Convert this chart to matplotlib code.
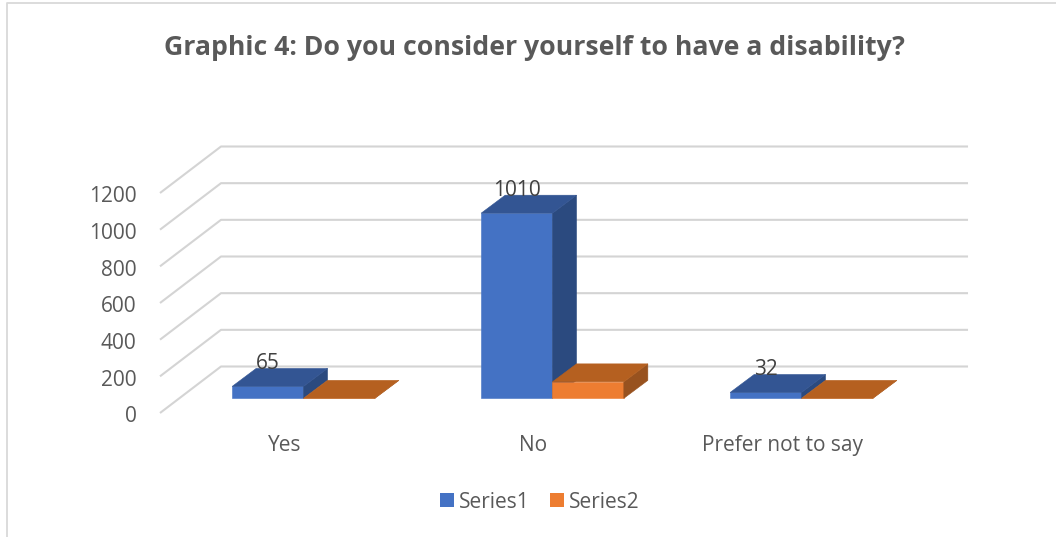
import matplotlib
matplotlib.use("Agg")
import matplotlib.pyplot as plt
from matplotlib.patches import Patch, Polygon
from matplotlib.lines import Line2D
from matplotlib.transforms import ScaledTranslation

categories = ["Yes", "No", "Prefer not to say"]
series1 = [65, 1010, 32]
series2 = [0, 90, 0]
y_ticks = [0, 200, 400, 600, 800, 1000, 1200]

plt.rcParams["font.family"] = "Open Sans"

W, H = 1056, 537
fig = plt.figure(figsize=(W / 100, H / 100), dpi=100)
ax = fig.add_axes([160 / W, 1 - 413 / H, 747 / W, 220 / H])
ax.set_xlim(-0.5, 2.5)
ax.set_ylim(0, 1200)
for s in ax.spines.values():
    s.set_visible(False)

# fake 3d: depth of the floor and of the bars, in data units
depth_x = 0.245
depth_y = 253.6
bar_w = 0.2865
bar_dx = 0.0964
bar_dy = 98
start_x = 0.0763
start_y = 80


def draw_bar(x, v, front, top, side):
    x0 = x + start_x
    x1 = x0 + bar_w
    ax.add_patch(Polygon([(x0, start_y), (x1, start_y), (x1, start_y + v), (x0, start_y + v)],
                         fc=front, ec=front, lw=0.4, clip_on=False, zorder=3))
    ax.add_patch(Polygon([(x1, start_y), (x1 + bar_dx, start_y + bar_dy),
                          (x1 + bar_dx, start_y + bar_dy + v), (x1, start_y + v)],
                         fc=side, ec=side, lw=0.4, clip_on=False, zorder=3))
    ax.add_patch(Polygon([(x0, start_y + v), (x1, start_y + v),
                          (x1 + bar_dx, start_y + bar_dy + v), (x0 + bar_dx, start_y + bar_dy + v)],
                         fc=top, ec=top, lw=0.4, clip_on=False, zorder=3))


for v in y_ticks:
    ax.plot([-0.5, -0.5 + depth_x, 2.5 + depth_x], [v, v + depth_y, v + depth_y],
            color="#d4d4d4", lw=1.5, clip_on=False, zorder=1, solid_capstyle="butt")

for i in range(len(categories)):
    draw_bar(i - bar_w, series1[i], "#4472c4", "#335593", "#2b4a7f")
    draw_bar(i, series2[i], "#ed7d31", "#b56020", "#98521f")
    ax.annotate(str(series1[i]), (i - bar_w / 2 + start_x, start_y + series1[i]), xytext=(0, 16.2),
                textcoords="offset points", ha="center", va="center",
                fontsize=15, color="#404040", zorder=4, annotation_clip=False)

ax.set_xticks(range(len(categories)))
ax.set_xticklabels(categories)
ax.set_yticks(y_ticks)
ax.tick_params(axis="x", length=0, pad=16, labelsize=15, labelcolor="#595959")
ax.tick_params(axis="y", length=0, pad=17, labelsize=15, labelcolor="#595959")
# tick labels sit a bit low in the original
for lab in ax.get_yticklabels():
    lab.set_transform(lab.get_transform() + ScaledTranslation(0, -1.5 / 100, fig.dpi_scale_trans))

fig.text(534 / W, 1 - 48 / H, "Graphic 4: Do you consider yourself to have a disability?",
         ha="center", va="center", fontsize=19.2, fontweight="bold", color="#595959")

handles = [Patch(fc="#4472c4", ec="none", label="Series1"),
           Patch(fc="#ed7d31", ec="none", label="Series2")]
fig.legend(handles=handles, loc="center", bbox_to_anchor=(540 / W, 1 - 502 / H), ncol=2,
           frameon=False, fontsize=15, labelcolor="#595959", handlelength=0.67, handleheight=0.67,
           handletextpad=0.25, columnspacing=0.95, borderpad=0)

# chart frame, only top and left show in the crop
fig.add_artist(Line2D([7 / W, 7 / W, 1], [0, 1 - 3 / H, 1 - 3 / H], color="#d9d9d9", lw=1.3))

fig.savefig("out.png", dpi=100)
